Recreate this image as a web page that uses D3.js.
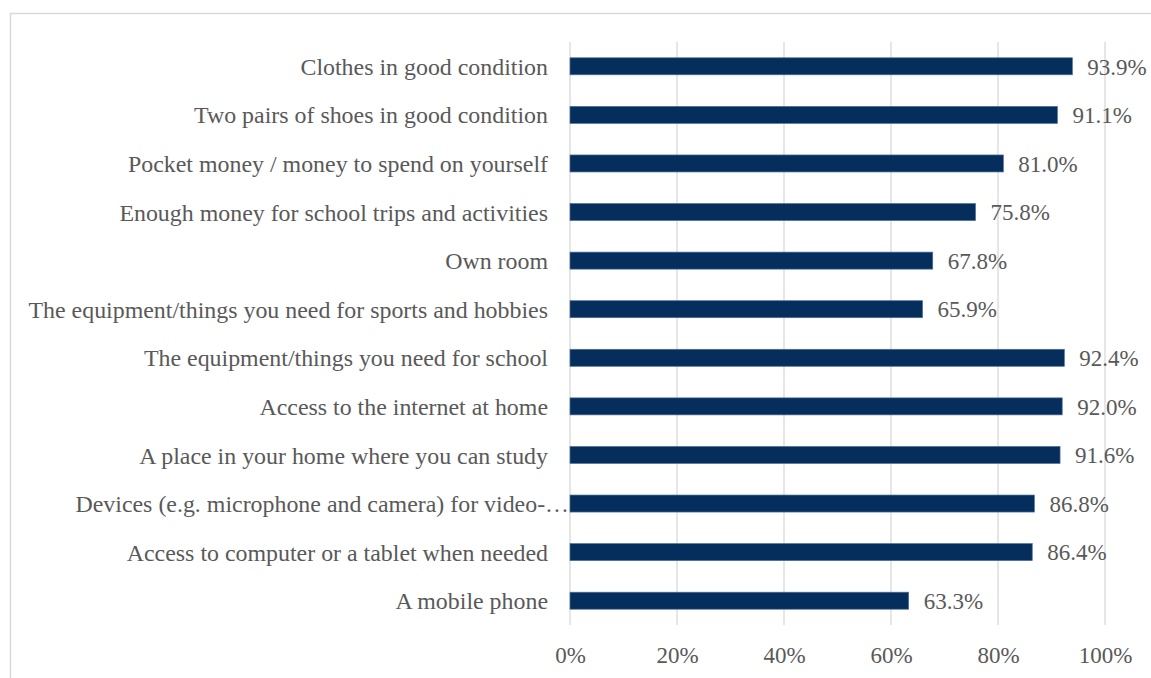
<!DOCTYPE html>
<html>
<head>
<meta charset="utf-8">
<script src="https://cdn.jsdelivr.net/npm/d3@7"></script>
<style>
  html, body { margin: 0; padding: 0; background: #ffffff; }
  svg { display: block; }
</style>
</head>
<body>
<svg id="chart" width="1151" height="678" font-family="Liberation Serif"></svg>
<script>
// Items young people have access to (share of respondents, %)
const categories = [
  "Clothes in good condition",
  "Two pairs of shoes in good condition",
  "Pocket money / money to spend on yourself",
  "Enough money for school trips and activities",
  "Own room",
  "The equipment/things you need for sports and hobbies",
  "The equipment/things you need for school",
  "Access to the internet at home",
  "A place in your home where you can study",
  "Devices (e.g. microphone and camera) for video-…",
  "Access to computer or a tablet when needed",
  "A mobile phone"
];
const values = [93.9, 91.1, 81.0, 75.8, 67.8, 65.9, 92.4, 92.0, 91.6, 86.8, 86.4, 63.3];
const tickValues = [0, 20, 40, 60, 80, 100];

const FONT = "Liberation Serif";
const TEXT_COLOR = "#595959";

const svg = d3.select("#chart");

// Outer chart frame (runs past the right and bottom edges)
svg.append("rect")
  .attr("x", 10.5).attr("y", 13.5)
  .attr("width", 1300).attr("height", 800)
  .attr("fill", "none")
  .attr("stroke", "#d9d9d9")
  .attr("stroke-width", 1.5);

const plot = { left: 570, right: 1105, top: 42, bottom: 625 };

const x = d3.scaleLinear().domain([0, 100]).range([plot.left, plot.right]);
const y = d3.scaleBand()
  .domain(categories)
  .range([plot.top, plot.bottom])
  .paddingInner(0.65)
  .paddingOuter(0.325);

// Vertical gridlines
svg.append("g")
  .selectAll("line")
  .data(tickValues)
  .join("line")
  .attr("x1", d => x(d)).attr("x2", d => x(d))
  .attr("y1", plot.top).attr("y2", plot.bottom)
  .attr("stroke", "#d9d9d9")
  .attr("stroke-width", 1.3);

// Bottom axis labels
const xAxis = d3.axisBottom(x)
  .tickValues(tickValues)
  .tickFormat(d => d + "%")
  .tickSize(0)
  .tickPadding(0);
const gx = svg.append("g")
  .attr("transform", `translate(0, ${plot.bottom})`)
  .call(xAxis)
  .attr("font-family", FONT)
  .attr("font-size", 23);
gx.select(".domain").remove();
gx.selectAll("text")
  .attr("y", 38)
  .attr("dy", null)
  .attr("fill", TEXT_COLOR);

// Category labels
const yAxis = d3.axisLeft(y).tickSize(0).tickPadding(0);
const gy = svg.append("g")
  .attr("transform", `translate(${plot.left}, 0)`)
  .call(yAxis)
  .attr("font-family", FONT)
  .attr("font-size", 23.9);
gy.select(".domain").remove();
gy.selectAll("text")
  .attr("x", d => d.endsWith("…") ? -1 : -22)
  .attr("dy", "0.36em")
  .attr("fill", TEXT_COLOR);

// Bars
const data = categories.map((c, i) => ({ cat: c, val: values[i] }));
svg.append("g")
  .selectAll("rect")
  .data(data)
  .join("rect")
  .attr("x", x(0))
  .attr("y", d => y(d.cat))
  .attr("width", d => x(d.val) - x(0))
  .attr("height", y.bandwidth())
  .attr("fill", "#062e5d")
  .attr("stroke", "#4f6f96")
  .attr("stroke-width", 0.7);

// Value labels
svg.append("g")
  .attr("font-family", FONT)
  .attr("font-size", 23)
  .attr("fill", TEXT_COLOR)
  .selectAll("text")
  .data(data)
  .join("text")
  .attr("x", d => x(d.val) + 15)
  .attr("y", d => y(d.cat) + y.bandwidth() / 2)
  .attr("dy", "0.36em")
  .text(d => d.val.toFixed(1) + "%");
</script>
</body>
</html>
